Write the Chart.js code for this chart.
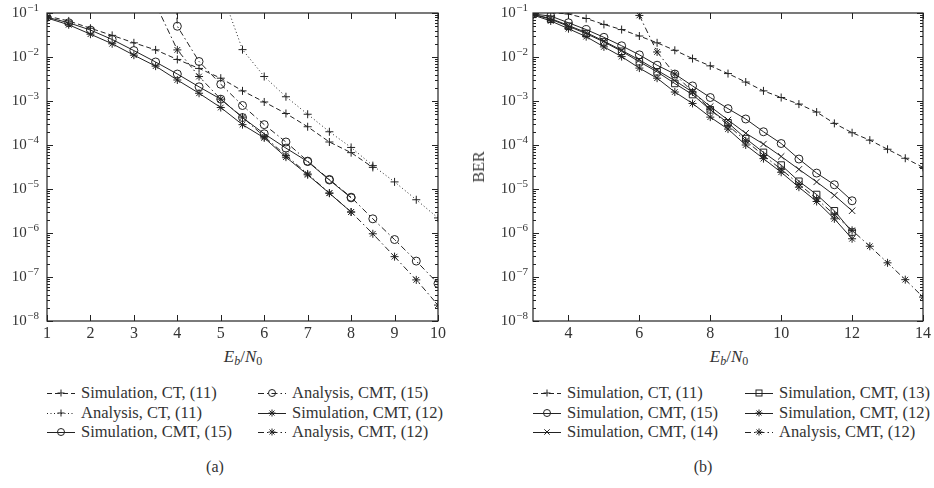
<!DOCTYPE html>
<html>
<head>
<meta charset="utf-8">
<script src="https://cdn.jsdelivr.net/npm/chart.js@4.4.1/dist/chart.umd.min.js"></script>
<style>
  body { margin: 0; background: #fff; width: 934px; height: 488px; position: relative; overflow: hidden;
         font-family: "Liberation Serif", serif; color: #333; }
  canvas { position: absolute; top: 0; }
  .ttl { position: absolute; width: 120px; text-align: center; font-size: 17px; line-height: 20px; }
  .ttl sub { font-size: 12px; vertical-align: -3px; line-height: 0; }
  .ber { position: absolute; font-size: 16px; font-weight: normal; transform: translate(-50%, -50%) rotate(-90deg); }
  .leg { position: absolute; display: flex; align-items: center; height: 20px; font-size: 16.5px; white-space: nowrap; }
  .leg svg { margin-right: 6px; }
  .cap { position: absolute; font-size: 16px; transform: translateX(-50%); }
</style>
</head>
<body>
<canvas id="chartA" width="467" height="345" style="left:0"></canvas>
<canvas id="chartB" width="467" height="345" style="left:467px"></canvas>
<div class="ttl" style="left:183px;top:347px"><i>E<sub>b</sub></i>/<i>N</i><sub>0</sub></div>
<div class="ttl" style="left:669px;top:347px"><i>E<sub>b</sub></i>/<i>N</i><sub>0</sub></div>
<div class="ber" style="left:479px;top:167px">BER</div>
<div id="legA"></div>
<div id="legB"></div>
<div class="cap" style="left:215px;top:458px">(a)</div>
<div class="cap" style="left:703px;top:458px">(b)</div>
<script>
// ---- data, panel (a) ----
const ebnoA = [1, 1.5, 2, 2.5, 3, 3.5, 4, 4.5, 5, 5.5, 6, 6.5, 7, 7.5, 8, 8.5, 9, 9.5, 10];
const simCTa    = [0.085, 0.066, 0.045, 0.031, 0.021, 0.0145, 0.0088, 0.0055, 0.0033, 0.0017, 9.5e-4, 5.2e-4, 2.6e-4, 1.17e-4, 6.7e-5, 3.1e-5, null, null, null];
const anaCTa    = [null, null, null, null, null, null, null, null, 0.35, 0.0147, 0.0036, 0.00125, 5.0e-4, 2.0e-4, 8.8e-5, 3.4e-5, 1.45e-5, 5.7e-6, 2.2e-6];
const simCMT15a = [0.08, 0.06, 0.041, 0.025, 0.014, 0.0077, 0.0041, 0.0021, 0.0011, 4.2e-4, 1.8e-4, 8.5e-5, 4.2e-5, 1.6e-5, 6.3e-6, null, null, null, null];
const anaCMT15a = [null, null, null, null, null, 5e8, 0.05, 0.0079, 0.0024, 7.9e-4, 2.9e-4, 1.17e-4, 4.3e-5, 1.65e-5, 6.5e-6, 2.1e-6, 7.1e-7, 2.3e-7, 7.1e-8];
const simCMT12a = [0.077, 0.054, 0.033, 0.02, 0.011, 0.0062, 0.003, 0.0015, 7.1e-4, 2.9e-4, 1.45e-4, 5.3e-5, 2.1e-5, 8e-6, 3e-6, null, null, null, null];
const anaCMT12a = [null, null, null, null, null, 0.16, 0.0145, 0.0036, 0.0011, 4.3e-4, 1.55e-4, 5.8e-5, 2.2e-5, 8.1e-6, 3.0e-6, 9.6e-7, 2.9e-7, 8.6e-8, 2.3e-8];
const xTicksA = [1, 2, 3, 4, 5, 6, 7, 8, 9, 10];

// ---- data, panel (b) ----
const ebnoB = [3, 3.5, 4, 4.5, 5, 5.5, 6, 6.5, 7, 7.5, 8, 8.5, 9, 9.5, 10, 10.5, 11, 11.5, 12, 12.5, 13, 13.5, 14];
const simCTb    = [null, 0.102, 0.095, 0.075, 0.055, 0.042, 0.03, 0.021, 0.0142, 0.0092, 0.0063, 0.0042, 0.0027, 0.0017, 0.0012, 8.5e-4, 5.6e-4, 3.1e-4, 1.9e-4, 1.29e-4, 8e-5, 5e-5, 3.1e-5];
const simCMT15b = [0.095, 0.085, 0.06, 0.042, 0.028, 0.018, 0.0112, 0.0065, 0.0041, 0.0022, 0.0012, 6.7e-4, 3.9e-4, 2.0e-4, 1.08e-4, 4.8e-5, 2.3e-5, 1.25e-5, 5.4e-6, null, null, null, null];
const simCMT14b = [0.093, 0.075, 0.052, 0.036, 0.023, 0.0142, 0.0086, 0.005, 0.0029, 0.0016, 7.5e-4, 3.7e-4, 1.85e-4, 1.05e-4, 5.5e-5, 2.8e-5, 1.45e-5, 7.2e-6, 3.2e-6, null, null, null, null];
const simCMT13b = [0.093, 0.072, 0.05, 0.034, 0.022, 0.0135, 0.0078, 0.0046, 0.0025, 0.0014, 6.3e-4, 3.2e-4, 1.4e-4, 6.8e-5, 3.5e-5, 1.5e-5, 7.5e-6, 3.2e-6, 1.05e-6, null, null, null, null];
const simCMT12b = [0.09, 0.066, 0.044, 0.029, 0.017, 0.0102, 0.0056, 0.0033, 0.0016, 8.8e-4, 4.3e-4, 2.3e-4, 1.0e-4, 4.9e-5, 2.4e-5, 1.1e-5, 5.2e-6, 2.1e-6, 7.4e-7, null, null, null, null];
const anaCMT12b = [null, null, null, null, null, null, 0.088, 0.013, 0.0041, 0.0016, 6.5e-4, 2.8e-4, 1.25e-4, 5.8e-5, 2.8e-5, 1.3e-5, 6e-6, 2.6e-6, 1.15e-6, 5.0e-7, 2.1e-7, 8.7e-8, 3.5e-8];
const xTicksB = [4, 6, 8, 10, 12, 14];

const yDecades = [1e-8, 1e-7, 1e-6, 1e-5, 1e-4, 1e-3, 1e-2, 1e-1];

// ---- styles ----
const INK = '#222';
const DASH = { solid: [], dashed: [5, 3], dotted: [1, 2.5], dashdot: [6, 3, 1.5, 3] };
const MARK = { plus: ['cross', 4], circle: ['circle', 4], x: ['crossRot', 4.5], star: ['star', 4], square: ['rect', 4.6] };

Chart.defaults.font.family = '"Liberation Serif", serif';

function series(label, xs, ys, dash, mark) {
  return {
    label: label,
    data: xs.map((x, i) => ({ x: x, y: ys[i] })).filter(p => p.y !== null),
    borderColor: INK, borderWidth: 1, borderDash: DASH[dash],
    pointStyle: MARK[mark][0], pointRadius: MARK[mark][1],
    pointBorderColor: INK, pointBackgroundColor: 'rgba(0,0,0,0)', pointBorderWidth: 1,
    tension: 0, fill: false,
    _dash: dash, _mark: mark
  };
}

// frame, inward ticks and 10^n labels
const axesDeco = {
  id: 'axesDeco',
  afterDraw(chart, args, opts) {
    const { ctx, chartArea: a, scales: { x, y } } = chart;
    ctx.save();
    ctx.strokeStyle = INK;
    ctx.lineWidth = 1.2;
    ctx.strokeRect(a.left, a.top, a.right - a.left, a.bottom - a.top);
    ctx.lineWidth = 1;
    ctx.beginPath();
    x.ticks.forEach(t => {
      const p = Math.round(x.getPixelForValue(t.value)) + 0.5;
      ctx.moveTo(p, a.bottom); ctx.lineTo(p, a.bottom - 6);
      ctx.moveTo(p, a.top); ctx.lineTo(p, a.top + 6);
    });
    y.ticks.forEach((t, i) => {
      const p = Math.round(y.getPixelForValue(t.value)) + 0.5;
      ctx.moveTo(a.left, p); ctx.lineTo(a.left + 6, p);
      ctx.moveTo(a.right, p); ctx.lineTo(a.right - 6, p);
      if (i < y.ticks.length - 1) {
        for (let m = 2; m <= 9; m++) {
          const q = Math.round(y.getPixelForValue(t.value * m)) + 0.5;
          ctx.moveTo(a.left, q); ctx.lineTo(a.left + 3, q);
          ctx.moveTo(a.right, q); ctx.lineTo(a.right - 3, q);
        }
      }
    });
    ctx.stroke();

    ctx.fillStyle = '#333';
    ctx.textBaseline = 'middle';
    ctx.textAlign = 'right';
    y.ticks.forEach(t => {
      const e = Math.round(Math.log10(t.value));
      const p = y.getPixelForValue(t.value);
      const exp = '\u2212' + (-e);
      ctx.font = '11px "Liberation Serif"';
      const we = ctx.measureText(exp).width;
      const right = a.left - opts.gap;
      ctx.fillText(exp, right, p - 5);
      ctx.font = '15px "Liberation Serif"';
      ctx.fillText('10', right - we - 0.5, p + 0.5);
    });
    ctx.restore();
  }
};

function makeChart(id, datasets, xmin, xmax, xticks, padLeftWidth, padRight, gap) {
  return new Chart(document.getElementById(id), {
    type: 'line',
    data: { datasets: datasets },
    options: {
      responsive: false, animation: false, devicePixelRatio: 1,
      layout: { padding: { top: 13, right: padRight, left: 0, bottom: 0 } },
      plugins: { legend: { display: false }, tooltip: { enabled: false }, axesDeco: { gap: gap } },
      scales: {
        x: {
          type: 'linear', min: xmin, max: xmax,
          grid: { display: false, drawTicks: false }, border: { display: false },
          ticks: { color: '#333', font: { size: 16 }, padding: 3, maxRotation: 0 },
          afterBuildTicks: s => { s.ticks = xticks.map(v => ({ value: v })); },
          afterFit: s => { s.height = 24; }
        },
        y: {
          type: 'logarithmic', min: 1e-8, max: 1e-1,
          grid: { display: false }, border: { display: false },
          ticks: { display: false },
          afterBuildTicks: s => { s.ticks = yDecades.map(v => ({ value: v })); },
          afterFit: s => { s.width = padLeftWidth; }
        }
      }
    },
    plugins: [axesDeco]
  });
}

const dsA = [
  series('Simulation, CT, (11)', ebnoA, simCTa, 'dashed', 'plus'),
  series('Analysis, CT, (11)', ebnoA, anaCTa, 'dotted', 'plus'),
  series('Simulation, CMT, (15)', ebnoA, simCMT15a, 'solid', 'circle'),
  series('Analysis, CMT, (15)', ebnoA, anaCMT15a, 'dashdot', 'circle'),
  series('Simulation, CMT, (12)', ebnoA, simCMT12a, 'solid', 'star'),
  series('Analysis, CMT, (12)', ebnoA, anaCMT12a, 'dashdot', 'star')
];
const dsB = [
  series('Simulation, CT, (11)', ebnoB, simCTb, 'dashed', 'plus'),
  series('Simulation, CMT, (15)', ebnoB, simCMT15b, 'solid', 'circle'),
  series('Simulation, CMT, (14)', ebnoB, simCMT14b, 'solid', 'x'),
  series('Simulation, CMT, (13)', ebnoB, simCMT13b, 'solid', 'square'),
  series('Simulation, CMT, (12)', ebnoB, simCMT12b, 'solid', 'star'),
  series('Analysis, CMT, (12)', ebnoB, anaCMT12b, 'dashdot', 'star')
];

makeChart('chartA', dsA, 1, 10, xTicksA, 47, 29, 8);
makeChart('chartB', dsB, 3, 14, xTicksB, 66, 10, 5);

// ---- legends (HTML, two columns of three) ----
function sample(ds) {
  const d = DASH[ds._dash].length ? ' stroke-dasharray="' + DASH[ds._dash].join(' ') + '"' : '';
  let m = '';
  const st = 'fill="none" stroke="' + INK + '" stroke-width="1"';
  if (ds._mark === 'circle') m = '<circle cx="14" cy="10" r="3.5" ' + st + '/>';
  if (ds._mark === 'plus') m = '<path d="M10.5 10H17.5M14 6.5V13.5" ' + st + '/>';
  if (ds._mark === 'x') m = '<path d="M11.3 7.3L16.7 12.7M16.7 7.3L11.3 12.7" ' + st + '/>';
  if (ds._mark === 'star') m = '<path d="M10.5 10H17.5M14 6.5V13.5M11.5 7.5L16.5 12.5M16.5 7.5L11.5 12.5" ' + st + '/>';
  if (ds._mark === 'square') m = '<rect x="11" y="7" width="6" height="6" ' + st + '/>';
  return '<svg width="28" height="20"><line x1="0" y1="10.5" x2="28" y2="10.5" stroke="' + INK + '" stroke-width="1"' + d + '/>' + m + '</svg>';
}
function legend(id, datasets, cols) {
  const el = document.getElementById(id);
  datasets.forEach((ds, i) => {
    const c = Math.floor(i / 3), r = i % 3;
    const div = document.createElement('div');
    div.className = 'leg';
    div.style.left = cols[c] + 'px';
    div.style.top = (383 + r * 19.5) + 'px';
    div.innerHTML = sample(ds) + '<span>' + ds.label + '</span>';
    el.appendChild(div);
  });
}
legend('legA', dsA, [47, 258]);
legend('legB', dsB, [533, 745]);
</script>
</body>
</html>
